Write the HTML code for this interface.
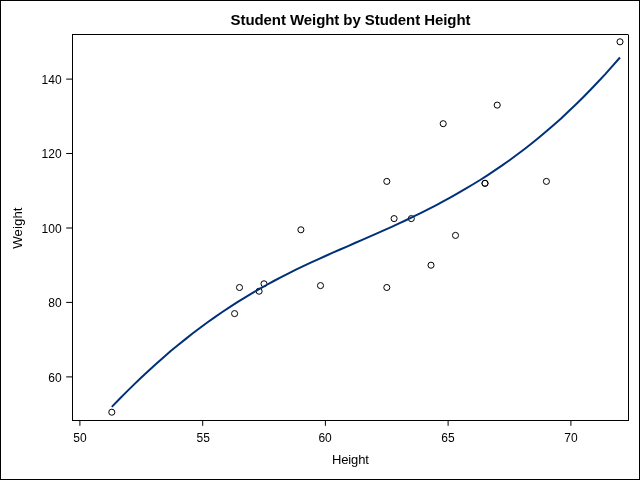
<!DOCTYPE html>
<html><head><meta charset="utf-8"><title>Student Weight by Student Height</title>
<style>
html,body{margin:0;padding:0;background:#fff;}
svg{display:block;font-family:"Liberation Sans",Arial,sans-serif;}
</style></head><body>
<svg width="640" height="480" viewBox="0 0 640 480">
<rect x="0" y="0" width="640" height="480" fill="#fff"/>
<rect x="0.5" y="0.5" width="639" height="479" fill="none" stroke="#000" stroke-width="1" shape-rendering="crispEdges"/>
<rect x="72.5" y="34.5" width="556" height="386" fill="none" stroke="#000" stroke-width="1" shape-rendering="crispEdges"/>
<rect x="628" y="34" width="1" height="1" fill="#777"/>
<g stroke="#000" stroke-width="1"><line x1="79.9" y1="421" x2="79.9" y2="425.8"/><line x1="202.7" y1="421" x2="202.7" y2="425.8"/><line x1="325.4" y1="421" x2="325.4" y2="425.8"/><line x1="448.1" y1="421" x2="448.1" y2="425.8"/><line x1="570.9" y1="421" x2="570.9" y2="425.8"/><line x1="66.2" y1="376.9" x2="72" y2="376.9"/><line x1="66.2" y1="302.4" x2="72" y2="302.4"/><line x1="66.2" y1="228.0" x2="72" y2="228.0"/><line x1="66.2" y1="153.5" x2="72" y2="153.5"/><line x1="66.2" y1="79.1" x2="72" y2="79.1"/></g>
<g font-size="12px" fill="#000"><text x="79.9" y="441.5" text-anchor="middle">50</text><text x="203.2" y="441.5" text-anchor="middle">55</text><text x="325.1" y="441.5" text-anchor="middle">60</text><text x="448.0" y="441.5" text-anchor="middle">65</text><text x="571.0" y="441.5" text-anchor="middle">70</text><text x="61.6" y="381.5" text-anchor="end">60</text><text x="61.6" y="307.0" text-anchor="end">80</text><text x="61.6" y="232.6" text-anchor="end">100</text><text x="61.6" y="158.1" text-anchor="end">120</text><text x="61.6" y="83.7" text-anchor="end">140</text></g>
<text x="350.5" y="24.7" text-anchor="middle" font-size="15px" letter-spacing="-0.07" font-weight="bold" fill="#000">Student Weight by Student Height</text>
<text x="350.4" y="463.6" text-anchor="middle" font-size="13px" letter-spacing="-0.15" fill="#000">Height</text>
<text transform="translate(22.1,228.1) rotate(-90)" text-anchor="middle" font-size="13.33px" fill="#000">Weight</text>
<g fill="none" stroke="#000" stroke-width="1.0"><circle cx="546.4" cy="181.4" r="3.05"/><circle cx="239.5" cy="287.5" r="3.05"/><circle cx="455.5" cy="235.4" r="3.05"/><circle cx="394.1" cy="218.6" r="3.05"/><circle cx="411.3" cy="218.6" r="3.05"/><circle cx="259.1" cy="291.2" r="3.05"/><circle cx="320.5" cy="285.6" r="3.05"/><circle cx="386.8" cy="181.4" r="3.05"/><circle cx="386.8" cy="287.5" r="3.05"/><circle cx="300.9" cy="229.8" r="3.05"/><circle cx="111.8" cy="412.2" r="3.05"/><circle cx="431.0" cy="265.2" r="3.05"/><circle cx="234.6" cy="313.6" r="3.05"/><circle cx="485.0" cy="183.3" r="3.05"/><circle cx="620.0" cy="41.8" r="3.05"/><circle cx="443.2" cy="123.7" r="3.05"/><circle cx="497.2" cy="105.1" r="3.05"/><circle cx="264.0" cy="283.8" r="3.05"/><circle cx="485.0" cy="183.3" r="3.05"/></g>
<path d="M111.8,406.9 L119.2,399.3 L126.5,391.9 L133.9,384.6 L141.3,377.5 L148.6,370.7 L156.0,364.0 L163.4,357.5 L170.7,351.1 L178.1,345.0 L185.5,339.1 L192.8,333.3 L200.2,327.7 L207.6,322.3 L214.9,317.1 L222.3,312.0 L229.7,307.1 L237.0,302.4 L244.4,297.8 L251.8,293.4 L259.1,289.1 L266.5,285.0 L273.8,281.0 L281.2,277.1 L288.6,273.4 L295.9,269.7 L303.3,266.2 L310.7,262.7 L318.0,259.3 L325.4,256.0 L332.8,252.7 L340.1,249.5 L347.5,246.3 L354.9,243.0 L362.2,239.8 L369.6,236.6 L377.0,233.4 L384.3,230.1 L391.7,226.8 L399.1,223.4 L406.4,220.0 L413.8,216.4 L421.1,212.8 L428.5,209.1 L435.9,205.3 L443.2,201.4 L450.6,197.4 L458.0,193.2 L465.3,188.9 L472.7,184.5 L480.1,180.0 L487.4,175.3 L494.8,170.4 L502.2,165.4 L509.5,160.2 L516.9,154.8 L524.3,149.2 L531.6,143.5 L539.0,137.5 L546.4,131.3 L553.7,125.0 L561.1,118.4 L568.4,111.5 L575.8,104.5 L583.2,97.2 L590.5,89.7 L597.9,82.0 L605.3,74.1 L612.6,65.9 L620.0,57.5" fill="none" stroke="#003178" stroke-width="2" stroke-linecap="butt" stroke-linejoin="round"/>
</svg>
</body></html>
